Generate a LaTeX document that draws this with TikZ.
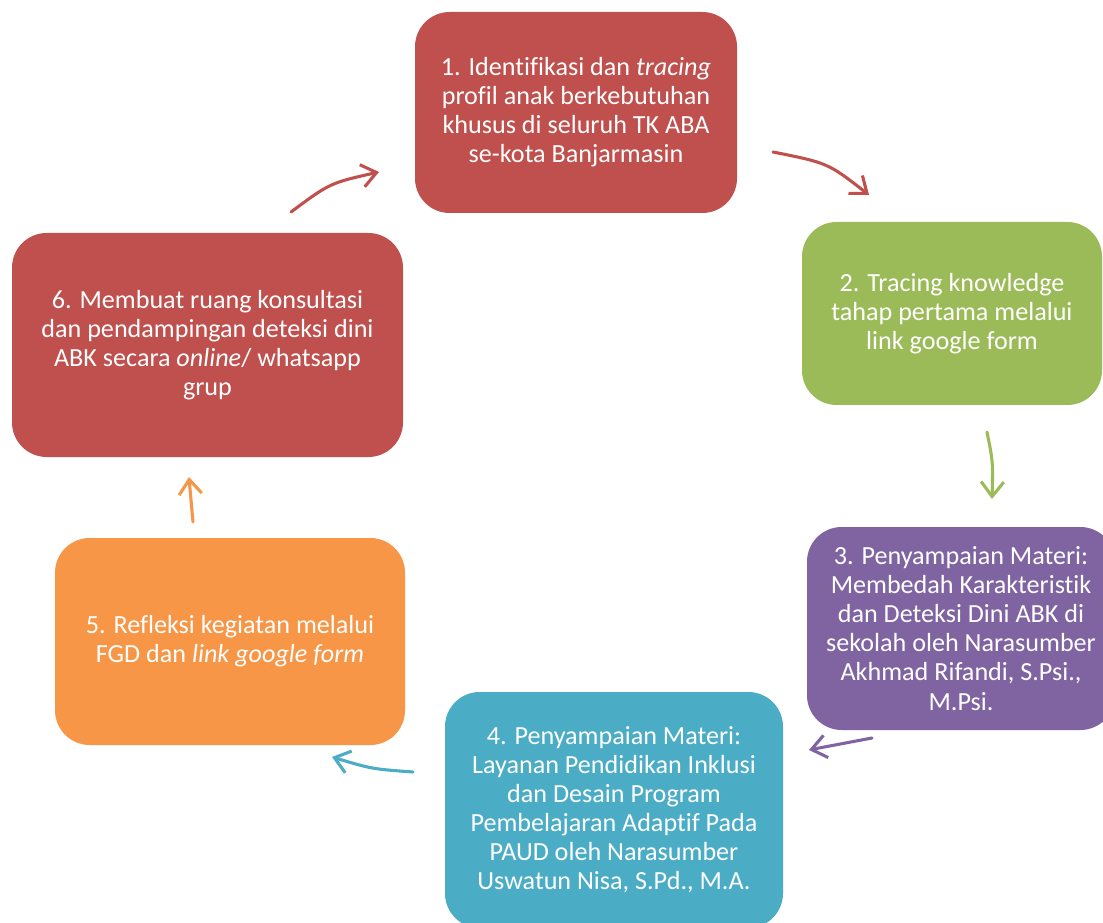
\documentclass[tikz,border=0pt]{standalone}
\usepackage{fontspec}
\setmainfont{Carlito}[Ligatures={NoCommon}]
\usetikzlibrary{arrows.meta}
\definecolor{cred}{HTML}{C0504D}
\definecolor{cgreen}{HTML}{9BBB59}
\definecolor{cpurple}{HTML}{8064A2}
\definecolor{cteal}{HTML}{4BACC6}
\definecolor{corange}{HTML}{F79646}
\tikzset{
  stepbox/.style={rectangle, rounded corners=26pt, draw=none, text=white, align=center,
    inner sep=0pt, font=\fontsize{19.6}{21.8}\selectfont},
  cyclearrow/.style={line width=2.3pt, line cap=round, -{Straight Barb[length=11pt,width=17pt,line width=2.3pt]}}
}
\begin{document}
\begin{tikzpicture}[x=0.75pt,y=-0.75pt]
\useasboundingbox (0,0) rectangle (1103,923);
\clip (0,0) rectangle (1103,923);
\fill[white] (0,0) rectangle (1103,923);
% boxes
\node[stepbox, fill=cred, minimum width=241.5pt, minimum height=150.75pt] (b1) at (576,112.5)
  {1. Identifikasi dan \textit{tracing}\\profil anak berkebutuhan\\khusus di seluruh TK ABA\\se-kota Banjarmasin};
\node[stepbox, fill=cgreen, minimum width=225pt, minimum height=137.25pt] (b2) at (952,313.5)
  {2. Tracing knowledge\\tahap pertama melalui\\link google form};
\node[stepbox, fill=cpurple, minimum width=231pt, minimum height=152.25pt] (b3) at (961,628.5)
  {3. Penyampaian Materi:\\Membedah Karakteristik\\dan Deteksi Dini ABK di\\sekolah oleh Narasumber\\Akhmad Rifandi, S.Psi.,\\M.Psi.};
\node[stepbox, fill=cteal, minimum width=253.5pt, minimum height=177pt] (b4) at (614,810)
  {4. Penyampaian Materi:\\Layanan Pendidikan Inklusi\\dan Desain Program\\Pembelajaran Adaptif Pada\\PAUD oleh Narasumber\\Uswatun Nisa, S.Pd., M.A.};
\node[stepbox, fill=corange, minimum width=262.5pt, minimum height=155.25pt] (b5) at (230,641.5)
  {5. Refleksi kegiatan melalui\\FGD dan \textit{link google form}};
\node[stepbox, fill=cred, minimum width=293.25pt, minimum height=168pt] (b6) at (207.5,345)
  {6. Membuat ruang konsultasi\\dan pendampingan deteksi dini\\ABK secara \textit{online}/ whatsapp\\grup};
% arrow coordinates
\coordinate (a1s) at (291,212); \coordinate (a1c) at (330,183); \coordinate (a1t) at (379,172);
\coordinate (a2s) at (773,152); \coordinate (a2c) at (828,163); \coordinate (a2t) at (869,195);
\coordinate (a3s) at (987,432); \coordinate (a3c) at (993,462); \coordinate (a3t) at (992,499);
\coordinate (a4s) at (872,738); \coordinate (a4c) at (842,743); \coordinate (a4t) at (809,750);
\coordinate (a5s) at (413,772); \coordinate (a5c) at (372,769); \coordinate (a5t) at (332,757);
\coordinate (a6s) at (193,522); \coordinate (a6c) at (191,500); \coordinate (a6t) at (189,477);
\draw[cyclearrow, cred] (a1s) .. controls (a1c) .. (a1t);
\draw[cyclearrow, cred] (a2s) .. controls (a2c) .. (a2t);
\draw[cyclearrow, cgreen] (a3s) .. controls (a3c) .. (a3t);
\draw[cyclearrow, cpurple] (a4s) .. controls (a4c) .. (a4t);
\draw[cyclearrow, cteal] (a5s) .. controls (a5c) .. (a5t);
\draw[cyclearrow, corange] (a6s) .. controls (a6c) .. (a6t);
\end{tikzpicture}
\end{document}
